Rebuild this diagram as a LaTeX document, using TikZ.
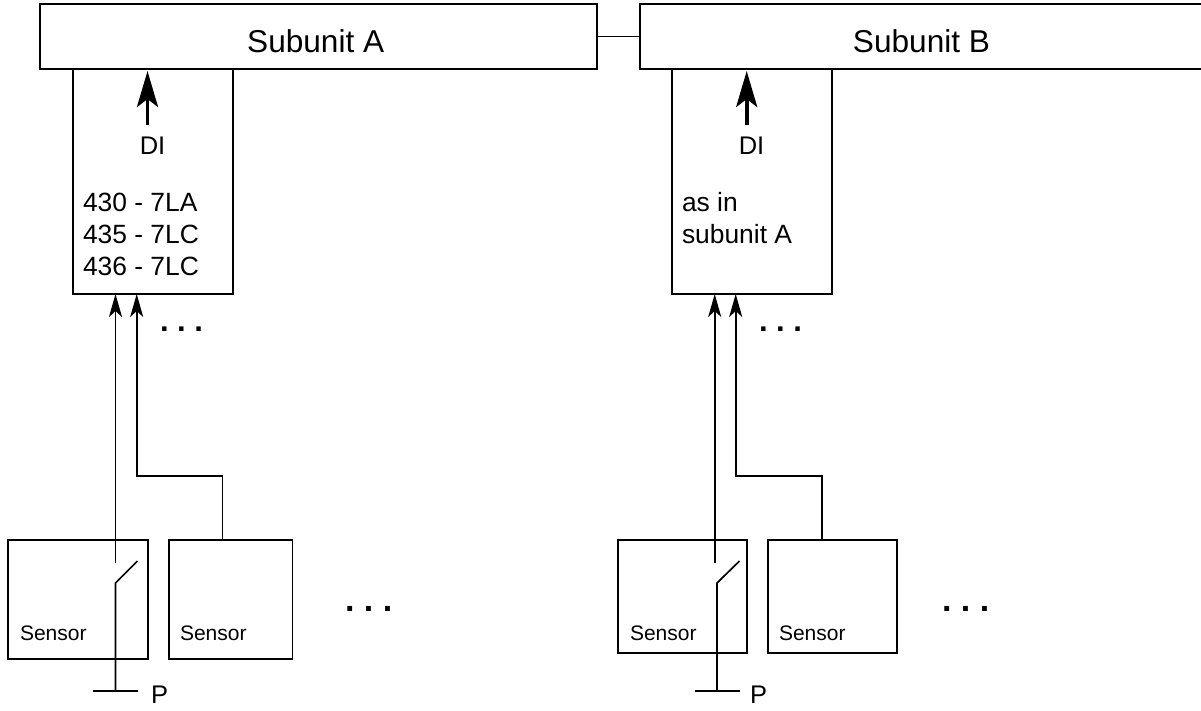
\documentclass[tikz,border=0pt]{standalone}
\usepackage{fontspec}
\setmainfont{Liberation Sans}
\usetikzlibrary{arrows.meta}
\tikzset{
  x=1pt,y=-1pt,
  box/.style={draw,line width=1.7pt,rectangle,inner sep=0pt,outer sep=0pt,anchor=north west,fill=white},
  wire/.style={line width=1.7pt},
  bigarrow/.style={line width=3.8pt,-{Stealth[length=36pt,width=21pt,inset=8pt]}},
  smallarrow/.style={line width=1.7pt,-{Stealth[length=23pt,width=13pt,inset=6pt]}},
  title/.style={font=\fontsize{31.6}{36}\selectfont,inner sep=0pt,outer sep=0pt,anchor=base},
  lab/.style={font=\fontsize{25.5}{31}\selectfont,inner sep=0pt,outer sep=0pt},
  lab2/.style={font=\fontsize{26.4}{31}\selectfont,inner sep=0pt,outer sep=0pt,anchor=base west},
  small/.style={font=\fontsize{21}{25}\selectfont,inner sep=0pt,outer sep=0pt,anchor=base west},
  dots/.style={font=\frenchspacing\fontsize{31}{31}\bfseries\selectfont,inner sep=0pt,outer sep=0pt,anchor=base west},
  dotsb/.style={font=\frenchspacing\fontsize{34}{34}\bfseries\selectfont,inner sep=0pt,outer sep=0pt,anchor=base west}
}
\begin{document}
\begin{tikzpicture}
\useasboundingbox (0,0) rectangle (1201,710);
\begin{scope}
\clip (0,0) rectangle (1201,710);
% Inner boxes
\node[box,minimum width=160pt,minimum height=225pt] (inA) at (73,69) {};
\node[box,minimum width=160pt,minimum height=225pt] (inB) at (672,69) {};
% Subunits
\node[box,minimum width=557pt,minimum height=65pt] (subA) at (40,4) {};
\node[box,minimum width=570pt,minimum height=65pt] (subB) at (640,4) {};
\end{scope}
\node[title] (tA) at (315.7,52.5) {Subunit A};
\node[title] (tB) at (921.5,52.5) {Subunit B};
\draw[wire] (subA) -- (subB);
% Sensors
\node[box,minimum width=140pt,minimum height=119pt] (s1) at (8,540) {};
\node[box,minimum width=123.5pt,minimum height=119pt] (s2) at (169,540) {};
\node[box,minimum width=129pt,minimum height=113pt] (s3) at (618,540) {};
\node[box,minimum width=129pt,minimum height=113pt] (s4) at (768,540) {};
\node[small] (ts1) at (20,640) {Sensor};
\node[small] (ts2) at (180,640) {Sensor};
\node[small] (ts3) at (630,640) {Sensor};
\node[small] (ts4) at (779,640) {Sensor};
% Thick arrows
\coordinate (dA) at (147.5,125); \coordinate (dB) at (746.7,125);
\draw[bigarrow] (dA) -- (dA |- 0,71);
\draw[bigarrow] (dB) -- (dB |- 0,71);
\node[lab] (diA) at (152.5,145.5) {DI};
\node[lab] (diB) at (751.5,145.5) {DI};
% texts
\node[lab2] (t1) at (83,211) {430 - 7LA};
\node[lab2] (t2) at (83,243) {435 - 7LC};
\node[lab2] (t3) at (83,275) {436 - 7LC};
\node[lab2] (t4) at (682,211) {as in};
\node[lab2] (t5) at (682,243) {subunit A};
% dots
\node[dots] (d1) at (160,331) {. . .};
\node[dots] (d2) at (759,331) {. . .};
\node[dotsb] (d3) at (345,611) {. . .};
\node[dotsb] (d4) at (942,611) {. . .};
% Switch A
\coordinate (a1) at (115.5,563); \coordinate (a2) at (115.5,583); \coordinate (a3) at (137.5,561);
\coordinate (pa) at (115.5,691); \coordinate (pa1) at (93,691); \coordinate (pa2) at (138,691);
\draw[smallarrow] (a1) -- (a1 |- inA.south);
\draw[wire] (a3) -- (a2) -- (pa);
\draw[wire] (pa1) -- (pa2);
\node[lab,anchor=base west] (pA) at (151,703.5) {P};
% Second wire A
\coordinate (ca) at (136.7,476);
\draw[smallarrow] (s2.north -| 222.5,0) |- (ca) -- (ca |- inA.south);
% Switch B
\coordinate (b1) at (714.7,563); \coordinate (b2) at (717,583); \coordinate (b3) at (739.5,561);
\coordinate (pb) at (717,691); \coordinate (pb1) at (695,691); \coordinate (pb2) at (739.5,691);
\draw[smallarrow] (b1) -- (b1 |- inB.south);
\draw[wire] (b3) -- (b2) -- (pb);
\draw[wire] (pb1) -- (pb2);
\node[lab,anchor=base west] (pB) at (750,703.5) {P};
% Second wire B
\coordinate (cb) at (735.7,476);
\draw[smallarrow] (s4.north -| 821.7,0) |- (cb) -- (cb |- inB.south);
\end{tikzpicture}
\end{document}
